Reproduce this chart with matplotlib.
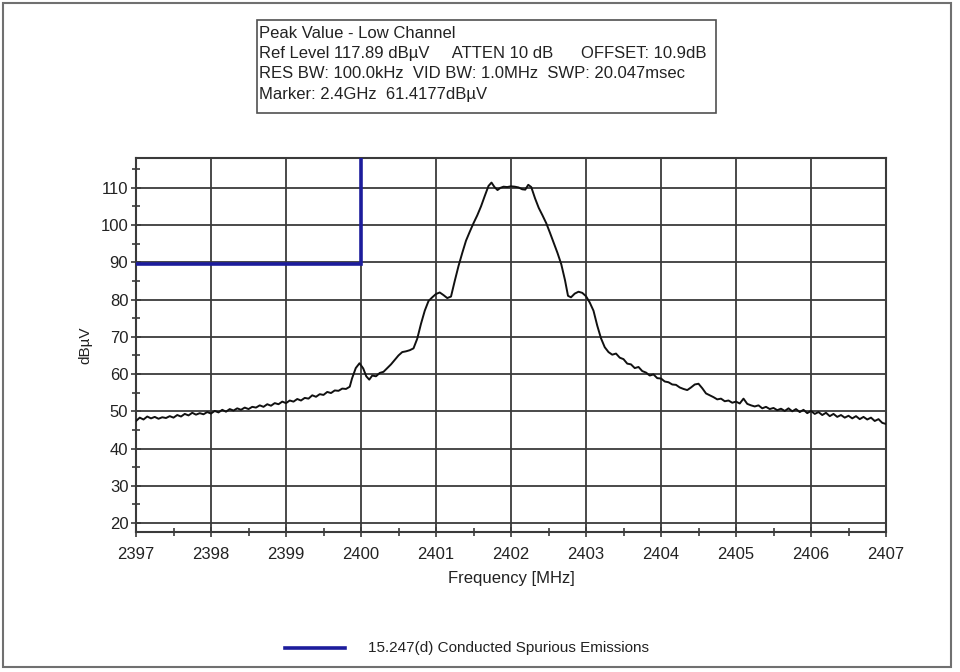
import matplotlib
matplotlib.use("Agg")
import matplotlib.pyplot as plt
from matplotlib.patches import Rectangle
from matplotlib.lines import Line2D

plt.rcParams['font.family'] = ['Liberation Sans', 'DejaVu Sans']

# Measured trace: frequency [MHz] and peak level [dBuV]
freq_mhz = [
    2397.00, 2397.05, 2397.10, 2397.15, 2397.20, 2397.25, 2397.30, 2397.35, 2397.40, 2397.45,
    2397.50, 2397.55, 2397.60, 2397.65, 2397.70, 2397.75, 2397.80, 2397.85, 2397.90, 2397.95,
    2398.00, 2398.05, 2398.10, 2398.15, 2398.20, 2398.25, 2398.30, 2398.35, 2398.40, 2398.45,
    2398.50, 2398.55, 2398.60, 2398.65, 2398.70, 2398.75, 2398.80, 2398.85, 2398.90, 2398.95,
    2399.00, 2399.05, 2399.10, 2399.15, 2399.20, 2399.25, 2399.30, 2399.35, 2399.40, 2399.45,
    2399.50, 2399.55, 2399.60, 2399.65, 2399.70, 2399.75, 2399.80, 2399.85, 2399.88, 2399.93,
    2399.98, 2400.03, 2400.07, 2400.11, 2400.15, 2400.20, 2400.25, 2400.30, 2400.35, 2400.40,
    2400.45, 2400.50, 2400.55, 2400.60, 2400.65, 2400.70, 2400.75, 2400.80, 2400.85, 2400.90,
    2400.95, 2401.00, 2401.05, 2401.10, 2401.15, 2401.20, 2401.25, 2401.30, 2401.35, 2401.40,
    2401.45, 2401.50, 2401.55, 2401.60, 2401.65, 2401.70, 2401.74, 2401.78, 2401.82, 2401.86,
    2401.90, 2401.95, 2402.00, 2402.05, 2402.10, 2402.15, 2402.19, 2402.23, 2402.27, 2402.32,
    2402.37, 2402.42, 2402.47, 2402.52, 2402.57, 2402.62, 2402.67, 2402.72, 2402.76, 2402.80,
    2402.85, 2402.90, 2402.95, 2403.00, 2403.05, 2403.10, 2403.15, 2403.20, 2403.25, 2403.30,
    2403.35, 2403.40, 2403.45, 2403.50, 2403.55, 2403.60, 2403.65, 2403.70, 2403.75, 2403.80,
    2403.85, 2403.90, 2403.95, 2404.00, 2404.05, 2404.10, 2404.15, 2404.20, 2404.25, 2404.30,
    2404.35, 2404.40, 2404.45, 2404.50, 2404.55, 2404.60, 2404.65, 2404.70, 2404.75, 2404.80,
    2404.85, 2404.90, 2404.95, 2405.00, 2405.05, 2405.10, 2405.15, 2405.20, 2405.25, 2405.30,
    2405.35, 2405.40, 2405.45, 2405.50, 2405.55, 2405.60, 2405.65, 2405.70, 2405.75, 2405.80,
    2405.85, 2405.90, 2405.95, 2406.00, 2406.05, 2406.10, 2406.15, 2406.20, 2406.25, 2406.30,
    2406.35, 2406.40, 2406.45, 2406.50, 2406.55, 2406.60, 2406.65, 2406.70, 2406.75, 2406.80,
    2406.85, 2406.90, 2406.95, 2407.00,
]
level_dbuv = [
    47.4, 48.3, 47.8, 48.6, 48.1, 48.5, 48.0, 48.4, 48.2, 48.7,
    48.3, 49.0, 48.6, 49.3, 48.9, 49.6, 49.1, 49.5, 49.2, 49.8,
    49.4, 50.1, 49.7, 50.4, 49.9, 50.6, 50.2, 50.8, 50.4, 51.0,
    50.6, 51.2, 51.0, 51.6, 51.2, 51.9, 51.5, 52.2, 51.9, 52.6,
    52.2, 52.9, 52.6, 53.3, 52.9, 53.6, 53.4, 54.3, 53.9, 54.6,
    54.4, 55.2, 54.9, 55.6, 55.5, 56.1, 56.0, 56.6, 58.8, 61.6,
    62.9, 61.5, 59.4, 58.5, 59.6, 59.4, 60.3, 60.6, 61.6, 62.6,
    63.8, 65.0, 65.9, 66.1, 66.4, 66.9, 69.5, 73.5, 77.0, 79.6,
    80.6, 81.5, 81.9, 81.2, 80.4, 80.8, 85.0, 89.0, 92.5, 95.8,
    98.2, 100.5, 102.6, 105.0, 107.8, 110.5, 111.4, 110.2, 109.4, 110.0,
    110.3, 110.2, 110.4, 110.3, 110.1, 109.6, 109.5, 110.8, 110.2, 107.2,
    104.6, 102.6, 100.5, 97.9, 95.2, 92.5, 89.5, 85.2, 81.0, 80.6,
    81.6, 82.1, 81.8, 80.9, 79.2, 77.0, 73.0, 69.6, 67.2, 65.9,
    65.2, 65.5, 64.4, 64.0, 62.8, 62.6, 61.6, 61.9, 60.8, 60.4,
    59.6, 59.9, 58.9, 58.8, 58.0, 57.8, 57.2, 57.1, 56.4, 56.0,
    55.7, 56.4, 57.2, 57.4, 56.2, 54.8, 54.3, 53.8, 53.2, 53.4,
    52.7, 52.9, 52.3, 52.6, 52.1, 53.4, 52.0, 51.6, 51.3, 51.6,
    50.8, 51.2, 50.6, 50.9, 50.3, 50.7, 50.1, 50.8, 50.0, 50.6,
    49.8, 50.4, 49.5, 50.1, 49.3, 49.8, 49.0, 49.6, 48.7, 49.3,
    48.5, 49.0, 48.3, 48.8, 48.1, 48.7, 47.9, 48.5, 47.8, 48.3,
    47.4, 47.9, 46.9, 46.6,
]

# 15.247(d) limit: restricted band edge at 2400 MHz
limit_freq = [2397.0, 2400.0, 2400.0]
limit_level = [89.6, 89.6, 118.0]

x_ticks = [2397, 2398, 2399, 2400, 2401, 2402, 2403, 2404, 2405, 2406, 2407]
y_ticks = [20, 30, 40, 50, 60, 70, 80, 90, 100, 110]

info_lines = [
    "Peak Value - Low Channel",
    "Ref Level 117.89 dB\u00b5V     ATTEN 10 dB      OFFSET: 10.9dB",
    "RES BW: 100.0kHz  VID BW: 1.0MHz  SWP: 20.047msec",
    "Marker: 2.4GHz  61.4177dB\u00b5V",
]
legend_label = "15.247(d) Conducted Spurious Emissions"

W, H = 960, 672
fig = plt.figure(figsize=(W / 100, H / 100), dpi=100)
fig.patch.set_facecolor("white")

def fx(px):
    return px / W

def fy(py):
    return 1 - py / H

# outer frame
fig.add_artist(Rectangle((fx(3), fy(667)), fx(951) - fx(3), fy(3) - fy(667),
                         transform=fig.transFigure, fill=False,
                         edgecolor="#707070", linewidth=1.5))

ax = fig.add_axes([fx(136), fy(532), fx(886) - fx(136), fy(158) - fy(532)])
ax.set_xlim(2397, 2407)
ax.set_ylim(17.6, 118.0)

grid_col = "#3a3a3a"
ax.set_xticks(x_ticks)
ax.set_yticks(y_ticks)
ax.set_xticks([v + 0.5 for v in x_ticks[:-1]], minor=True)
ax.set_yticks([v + 5 for v in y_ticks], minor=True)
ax.grid(True, which="major", color=grid_col, linewidth=1.3)
ax.tick_params(which="major", direction="inout", length=7, width=1.2,
               color=grid_col, labelsize=12, labelcolor="#222222")
ax.tick_params(axis="x", which="major", pad=7)
ax.tick_params(axis="y", which="major", pad=2)
ax.tick_params(which="minor", direction="inout", length=6, width=1.2,
               color=grid_col)
for sp in ax.spines.values():
    sp.set_color(grid_col)
    sp.set_linewidth(1.5)

ax.plot(limit_freq, limit_level, color="#1c1c9c", linewidth=2.6,
        solid_joinstyle="miter", zorder=3)
ax.plot(freq_mhz, level_dbuv, color="#111111", linewidth=1.4, zorder=4)

ax.set_xlabel("Frequency [MHz]", fontsize=12, color="#222222", labelpad=7)
ax.set_ylabel("dB\u00b5V", fontsize=11, color="#222222", labelpad=6)

# information box
fig.add_artist(Rectangle((fx(257), fy(113)), fx(716) - fx(257), fy(20) - fy(113),
                         transform=fig.transFigure, fill=False,
                         edgecolor="#505050", linewidth=1.2))
for i, line in enumerate(info_lines):
    fig.text(fx(259), fy(33 + i * 20.5), line, fontsize=12, color="#222222",
             va="center", ha="left")

# legend
fig.add_artist(Line2D([fx(285), fx(345)], [fy(648), fy(648)],
                      transform=fig.transFigure, color="#1c1c9c", linewidth=2.6))
fig.text(fx(368), fy(648), legend_label, fontsize=11, color="#222222",
         va="center", ha="left")

fig.savefig("out.png", dpi=100, facecolor="white")
